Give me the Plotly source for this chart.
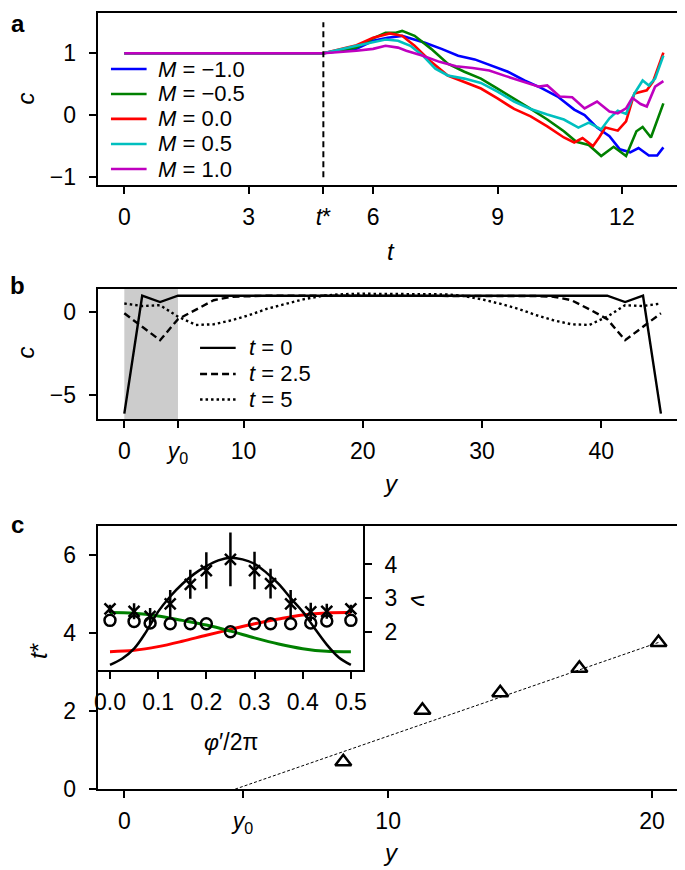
import plotly.graph_objects as go

W, H = 685, 870
FONT = "Liberation Sans, Arial, Helvetica, sans-serif"

## panel a: c(t) for several M
t_star = 4.8
m_labels = ["−1.0", "−0.5", "0.0", "0.5", "1.0"]
m_colors = ["#0000ff", "#008000", "#ff0000", "#00bfbf", "#bf00bf"]

t_m1 = [0, 4.8, 5.6, 6.0, 6.35, 6.7, 6.85, 7.25, 7.65, 8.05, 8.45, 8.85, 9.25, 9.65,
        10.05, 10.45, 10.85, 11.1, 11.4, 11.7, 11.95, 12.2, 12.4, 12.65, 12.85, 13.0]
c_m1 = [1.0, 1.0, 1.07, 1.20, 1.25, 1.28, 1.25, 1.17, 1.07, 0.96, 0.90, 0.80, 0.70, 0.56,
        0.44, 0.30, 0.09, 0.0, -0.20, -0.34, -0.55, -0.60, -0.53, -0.65, -0.65, -0.52]

t_m05 = [0, 4.8, 5.6, 6.0, 6.3, 6.55, 6.7, 7.0, 7.4, 7.8, 8.2, 8.6, 9.0, 9.4, 9.8,
         10.2, 10.6, 10.9, 11.2, 11.5, 11.8, 12.1, 12.35, 12.5, 12.7, 13.0]
c_m05 = [1.0, 1.0, 1.09, 1.24, 1.33, 1.33, 1.36, 1.28, 1.07, 0.83, 0.70, 0.59, 0.43, 0.27, 0.10,
         -0.07, -0.26, -0.43, -0.48, -0.66, -0.51, -0.66, -0.26, -0.19, -0.36, 0.19]

t_0 = [0, 4.8, 5.6, 6.0, 6.4, 6.7, 7.0, 7.4, 7.8, 8.2, 8.6, 9.0, 9.4, 9.8, 10.2, 10.6,
       10.85, 11.05, 11.3, 11.45, 11.6, 11.9, 12.1, 12.3, 12.6, 12.75, 13.0]
c_0 = [1.0, 1.0, 1.13, 1.25, 1.32, 1.28, 1.12, 0.86, 0.64, 0.54, 0.43, 0.27, 0.10, -0.02, -0.18, -0.36,
       -0.44, -0.37, -0.50, -0.36, -0.20, -0.25, -0.10, 0.35, 0.40, 0.54, 1.01]

t_p05 = [0, 4.8, 5.6, 6.0, 6.3, 6.6, 6.9, 7.2, 7.5, 7.8, 8.2, 8.6, 9.0, 9.4, 9.8, 10.2,
         10.6, 10.95, 11.2, 11.5, 11.7, 11.9, 12.1, 12.3, 12.5, 12.65, 12.8, 13.0]
c_p05 = [1.0, 1.0, 1.12, 1.18, 1.22, 1.20, 1.12, 0.96, 0.75, 0.64, 0.59, 0.52, 0.38, 0.22, 0.10, 0.01,
         -0.07, -0.20, -0.12, -0.23, -0.05, 0.07, 0.02, 0.35, 0.56, 0.48, 0.59, 0.96]

t_p1 = [0, 4.8, 5.6, 6.0, 6.3, 6.6, 6.8, 7.2, 7.6, 8.0, 8.4, 8.8, 9.2, 9.6, 10.0, 10.2,
        10.5, 10.8, 11.1, 11.4, 11.7, 11.9, 12.1, 12.25, 12.45, 12.6, 12.8, 13.0]
c_p1 = [1.0, 1.0, 1.04, 1.07, 1.12, 1.09, 1.04, 0.96, 0.86, 0.79, 0.76, 0.72, 0.63, 0.54, 0.46, 0.48,
        0.30, 0.29, 0.11, 0.22, 0.06, 0.03, 0.11, 0.28, 0.18, 0.14, 0.46, 0.55]

series_a = [(t_m1, c_m1), (t_m05, c_m05), (t_0, c_0), (t_p05, c_p05), (t_p1, c_p1)]

## panel b: profiles c(y)
y0 = 4.5
y_grid = [0, 1.5, 3, 4.5, 6, 7.5, 9, 10.5, 12, 13.5, 15, 16.5, 18, 19.5, 21, 22.5,
          24, 25.5, 27, 28.5, 30, 31.5, 33, 34.5, 36, 37.5, 39, 40.5, 42, 43.5, 45]
c_t0 = [-6.1, 1.0, 0.62, 1.0, 1.0, 1.0, 1.0, 1.0, 1.0, 1.0, 1.0, 1.0, 1.0, 1.0, 1.0, 1.0,
        1.0, 1.0, 1.0, 1.0, 1.0, 1.0, 1.0, 1.0, 1.0, 1.0, 1.0, 1.0, 0.62, 1.0, -6.1]
c_t25 = [-0.06, -0.87, -1.68, -0.41, 0.18, 0.73, 0.94, 0.98, 1.0, 1.0, 1.0, 1.0, 1.0, 1.0, 1.0, 1.0,
         1.0, 1.0, 1.0, 1.0, 1.0, 1.0, 1.0, 0.98, 0.94, 0.73, 0.18, -0.41, -1.68, -0.87, -0.06]
c_t5 = [0.53, 0.38, 0.43, -0.26, -0.76, -0.72, -0.48, -0.16, 0.22, 0.52, 0.78, 0.98, 1.08, 1.12, 1.12, 1.12,
        1.12, 1.12, 1.08, 0.98, 0.78, 0.52, 0.22, -0.16, -0.48, -0.72, -0.76, -0.26, 0.43, 0.38, 0.53]
b_labels = ["0", "2.5", "5"]
b_dashes = ["solid", "7px,4px", "2.5px,3px"]

## panel c: t* versus y
y_pts = [8.3, 11.3, 14.25, 17.25, 20.25]
tstar_pts = [0.70, 2.02, 2.47, 3.10, 3.76]
fit_y = [4.2, 20.25]
fit_t = [0.0, 3.76]

## inset: nu versus phi'/2pi
phi_pts = [0.0, 0.05, 0.0833, 0.125, 0.1667, 0.2, 0.25, 0.3, 0.3333, 0.375, 0.4167, 0.45, 0.5]
nu_cross = [2.68, 2.61, 2.46, 2.83, 3.41, 3.82, 4.15, 3.82, 3.43, 2.83, 2.59, 2.61, 2.68]
nu_err = [0.12, 0.24, 0.25, 0.41, 0.43, 0.54, 0.80, 0.56, 0.44, 0.41, 0.27, 0.22, 0.12]
nu_circ = [2.34, 2.31, 2.26, 2.24, 2.24, 2.24, 2.0, 2.24, 2.24, 2.24, 2.26, 2.32, 2.34]
phi_fine = [0.0, 0.025, 0.05, 0.075, 0.1, 0.125, 0.15, 0.175, 0.2, 0.225, 0.25,
            0.275, 0.3, 0.325, 0.35, 0.375, 0.4, 0.425, 0.45, 0.475, 0.5]
nu_fit = [1.02, 1.2, 1.5, 2.0, 2.6, 3.05, 3.42, 3.72, 3.95, 4.12, 4.2,
          4.15, 4.02, 3.75, 3.42, 3.0, 2.6, 2.1, 1.62, 1.24, 1.02]
phi_mid = [0.0, 0.05, 0.1, 0.15, 0.2, 0.25, 0.3, 0.35, 0.4, 0.45, 0.5]
red_curve = [1.41, 1.45, 1.56, 1.72, 1.9, 2.07, 2.24, 2.38, 2.5, 2.56, 2.57]
green_curve = [2.57, 2.55, 2.47, 2.34, 2.2, 2.02, 1.82, 1.64, 1.5, 1.42, 1.41]


def px(x):
    return x / W


def py(y):
    return 1 - y / H


fig = go.Figure()

## panel a
for (t, c), col, lab in zip(series_a, m_colors, m_labels):
    fig.add_trace(go.Scatter(x=t, y=c, mode='lines', line=dict(color=col, width=2.6),
                             xaxis='x', yaxis='y', showlegend=False))
fig.add_trace(go.Scatter(x=[t_star, t_star], y=[-1.0, 1.5], mode='lines',
                         line=dict(color='black', width=2, dash='6px,4px'),
                         xaxis='x', yaxis='y', showlegend=False))

## panel b
for cv, dash in zip([c_t0, c_t25, c_t5], b_dashes):
    fig.add_trace(go.Scatter(x=y_grid, y=cv, mode='lines', line=dict(color='black', width=2.4, dash=dash),
                             xaxis='x2', yaxis='y2', showlegend=False))

## panel c
fig.add_trace(go.Scatter(x=fit_y, y=fit_t, mode='lines', line=dict(color='black', width=1, dash='3px,2px'),
                         xaxis='x3', yaxis='y3', showlegend=False))
fig.add_trace(go.Scatter(x=y_pts, y=tstar_pts, mode='markers',
                         marker=dict(symbol='triangle-up-open', size=14, color='black', line=dict(width=2.5)),
                         xaxis='x3', yaxis='y3', showlegend=False))

## inset
fig.add_trace(go.Scatter(x=phi_mid, y=red_curve, mode='lines', line=dict(color='#ff0000', width=3, shape='spline'),
                         xaxis='x4', yaxis='y4', showlegend=False))
fig.add_trace(go.Scatter(x=phi_mid, y=green_curve, mode='lines', line=dict(color='#008000', width=3, shape='spline'),
                         xaxis='x4', yaxis='y4', showlegend=False))
fig.add_trace(go.Scatter(x=phi_fine, y=nu_fit, mode='lines', line=dict(color='black', width=2.5, shape='spline'),
                         xaxis='x4', yaxis='y4', showlegend=False))
fig.add_trace(go.Scatter(x=phi_pts, y=nu_cross, mode='markers',
                         marker=dict(symbol='x-thin-open', size=11, color='black', line=dict(width=2.5, color='black')),
                         error_y=dict(type='data', array=nu_err, color='black', thickness=2.5, width=0),
                         xaxis='x4', yaxis='y4', showlegend=False))
fig.add_trace(go.Scatter(x=phi_pts, y=nu_circ, mode='markers',
                         marker=dict(symbol='circle-open', size=11, color='black', line=dict(width=2.5)),
                         xaxis='x4', yaxis='y4', showlegend=False))

tickfont = dict(family=FONT, size=23, color='black')
base = dict(showline=True, linewidth=2, linecolor='black', mirror=True, ticks='outside',
            ticklen=7, tickwidth=2, tickcolor='black', showgrid=False, zeroline=False,
            tickfont=tickfont)
xstand = 3
ystand = 8

fig.update_layout(
    width=W, height=H, margin=dict(l=0, r=0, t=0, b=0),
    paper_bgcolor='white', plot_bgcolor='rgba(0,0,0,0)',
    xaxis=dict(base, domain=[px(87.5), px(683)], range=[-0.644, 13.57], anchor='y',
               tickvals=[0, 3, t_star, 6, 9, 12], ticktext=['0', '3', '<i>t</i>*', '6', '9', '12'],
               ticklabelstandoff=xstand),
    yaxis=dict(base, domain=[py(180), py(5.5)], range=[-1.132, 1.642], anchor='x',
               tickvals=[-1, 0, 1], ticklabelstandoff=ystand),
    xaxis2=dict(base, domain=[px(87.5), px(683)], range=[-2.24, 47.19], anchor='y2',
                tickvals=[0, y0, 10, 20, 30, 40], ticktext=['0', '<i>y</i><sub>0</sub>', '10', '20', '30', '40'],
                ticklabelstandoff=xstand),
    yaxis2=dict(base, domain=[py(417.5), py(285)], range=[-6.44, 1.42], anchor='x2',
                tickvals=[-5, 0], ticklabelstandoff=ystand),
    xaxis3=dict(base, domain=[px(87.5), px(683)], range=[-1.013, 21.33], anchor='y3',
                tickvals=[0, y0, 10, 20], ticktext=['0', '<i>y</i><sub>0</sub>', '10', '20'],
                ticklabelstandoff=xstand),
    yaxis3=dict(base, domain=[py(793), py(526)], range=[0, 6.74], anchor='x3',
                tickvals=[0, 2, 4, 6], ticklabelstandoff=ystand),
    xaxis4=dict(base, domain=[px(87.5), px(355.5)], range=[-0.0257, 0.5249], anchor='y4',
                tickvals=[0, 0.1, 0.2, 0.3, 0.4, 0.5], tickformat='.1f', ticklabelstandoff=xstand),
    yaxis4=dict(base, domain=[py(672), py(526)], range=[0.868, 5.137], anchor='x4', side='right',
                tickvals=[2, 3, 4], ticklabelstandoff=ystand),
)

shapes = [dict(type='rect', xref='x2', yref='y2 domain', x0=0, x1=y0, y0=0, y1=1,
               fillcolor='#cccccc', line=dict(width=0), layer='below')]

annotations = []


def txt(x, y, text, size=22, angle=0, xanchor='center', yanchor='middle'):
    annotations.append(dict(x=px(x), y=py(y), xref='paper', yref='paper', text=text, showarrow=False,
                            textangle=angle, xanchor=xanchor, yanchor=yanchor,
                            font=dict(family=FONT, size=size, color='black')))


## panel letters
txt(7, 16, '<b>a</b>', size=24)
txt(7, 282, '<b>b</b>', size=24)
txt(7, 524, '<b>c</b>', size=24)

## axis titles
txt(15, 92, '<i>c</i>', size=24, angle=-90)
txt(384, 247, '<i>t</i>', size=24)
txt(15, 350, '<i>c</i>', size=24, angle=-90)
txt(384, 483, '<i>y</i>', size=24)
txt(28, 653, '<i>t</i>*', size=24, angle=-90)
txt(384, 857, '<i>y</i>', size=24)
txt(222, 745, '<i>φ</i>′/2π', size=23)
txt(413, 601, '<i>ν</i>', size=24, angle=90)

## legend a
rows_a = [62, 87.3, 112.6, 138, 163.5]
for ry, col, lab in zip(rows_a, m_colors, m_labels):
    shapes.append(dict(type='line', xref='paper', yref='paper', x0=px(101), x1=px(137), y0=py(ry), y1=py(ry),
                       line=dict(color=col, width=2.6)))
    txt(147, ry, '<i>M</i> = ' + lab, xanchor='left')

## legend b
rows_b = [345, 371.5, 397.5]
for ry, dash, lab in zip(rows_b, b_dashes, b_labels):
    shapes.append(dict(type='line', xref='paper', yref='paper', x0=px(191), x1=px(227), y0=py(ry), y1=py(ry),
                       line=dict(color='black', width=2.4, dash=dash)))
    txt(238, ry, '<i>t</i> = ' + lab, xanchor='left')

fig.update_layout(shapes=shapes, annotations=annotations)

fig.write_html("out.html")
